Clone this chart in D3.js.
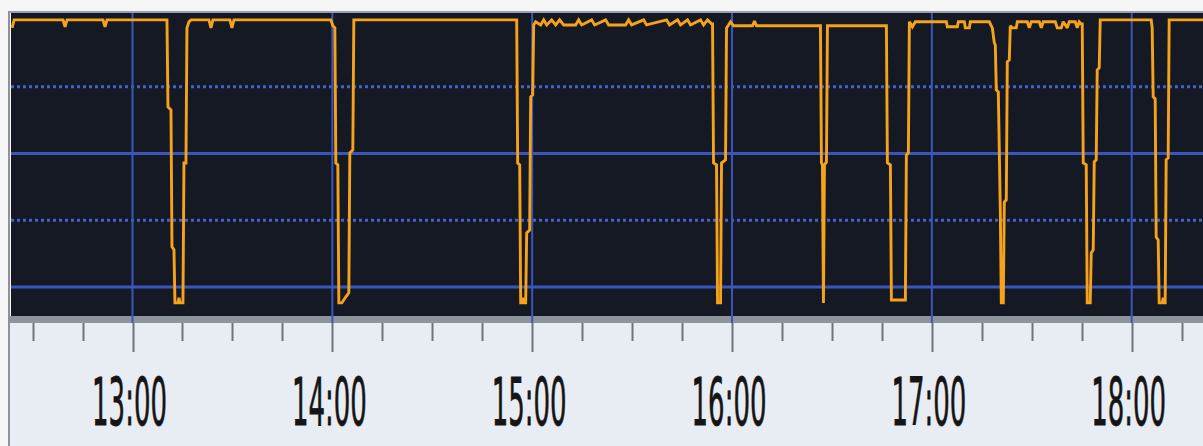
<!DOCTYPE html>
<html>
<head>
<meta charset="utf-8">
<script src="https://cdn.jsdelivr.net/npm/d3@7/dist/d3.min.js"></script>
<style>
  html, body { margin: 0; padding: 0; background: #f6f6f7; }
  svg { display: block; }
</style>
</head>
<body>
<svg id="chart" width="1203" height="446"></svg>
<script>
// ---------------- data ----------------
const times = [
  "12:23:51","12:24:27","12:39:09","12:39:45","12:40:21","12:51:09","12:51:45","12:52:21",
  "13:10:21","13:10:39","13:11:33","13:11:51","13:12:27","13:12:45","13:13:39","13:13:57","13:14:15","13:15:09",
  "13:15:27","13:16:03","13:16:21","13:16:57","13:17:33","13:22:57","13:23:33","13:24:09","13:29:15","13:29:51","13:30:27",
  "13:59:33","14:00:09","14:00:45","14:01:03","14:01:39","14:01:57","14:02:51","14:04:03","14:04:57","14:05:15","14:06:09","14:06:27",
  "14:55:21","14:55:39","14:56:15","14:56:33","14:57:09","14:57:27","14:57:45","14:58:03","14:58:21","14:59:15","14:59:33","15:00:09","15:00:27",
  "15:01:03","15:02:33","15:03:27","15:04:21","15:05:51","15:07:03","15:08:15","15:09:27","15:13:03","15:13:57","15:14:51",
  "15:17:51","15:18:45","15:22:03","15:22:57","15:28:03","15:28:57","15:29:51","15:33:27","15:34:21","15:40:21","15:41:15",
  "15:43:39","15:44:33","15:46:39","15:47:33","15:50:33","15:51:27","15:52:39","15:53:51",
  "15:54:09","15:54:27","15:55:21","15:55:39","15:56:33","15:56:51","15:58:03","15:58:21","15:58:57",
  "15:59:33","16:00:27","16:06:09","16:06:45","16:07:21","16:26:33",
  "16:26:51","16:27:09","16:27:27","16:27:45","16:28:21","16:28:39","16:46:21",
  "16:46:39","16:47:33","16:47:51","16:52:03","16:52:21","16:52:57","16:53:15",
  "16:54:09","16:55:03","17:04:21","17:04:39","17:07:39","17:07:57","17:09:45","17:10:03","17:11:15","17:11:33","17:17:15","17:18:09",
  "17:18:45","17:19:03","17:19:21","17:19:57","17:20:33","17:20:51","17:21:27","17:21:45","17:22:21","17:22:39","17:23:15","17:23:33",
  "17:24:09","17:25:21","17:25:39","17:28:39","17:29:15","17:29:51","17:32:15","17:32:51","17:33:27","17:37:03","17:37:39",
  "17:38:51","17:39:27","17:40:39","17:41:15","17:43:03","17:43:39","17:44:15","17:44:51",
  "17:45:09","17:45:27","17:46:21","17:46:39","17:47:33","17:47:51","17:48:27","17:48:45","17:49:21","17:49:39","17:50:15","17:50:33",
  "18:05:51","18:06:09","18:06:27","18:07:03","18:07:21","18:07:57","18:08:15","18:09:09","18:09:27","18:09:45","18:10:03",
  "18:10:21","18:10:57","18:11:15","18:21:45"
];
const values = [
  97.0,100.0,100.0,97.4,100.0,100.0,97.4,100.0,
  100.0,67.4,66.3,15.0,13.9,-6.0,-6.0,-4.1,-6.0,-6.0,
  46.4,46.4,97.0,99.3,100.0,100.0,97.0,100.0,100.0,97.0,100.0,
  100.0,97.8,97.0,46.4,45.7,-6.0,-6.0,-3.7,-2.2,50.2,51.3,100.0,
  100.0,46.4,45.7,-6.0,-6.0,-4.1,-6.0,-6.0,20.2,21.3,71.2,71.9,98.1,
  99.3,98.1,100.0,98.1,100.0,98.1,100.0,98.1,98.1,100.0,98.1,
  100.0,98.1,100.0,98.1,98.1,100.0,98.1,100.0,98.1,100.0,98.1,
  100.0,98.1,100.0,98.1,100.0,98.1,100.0,98.5,
  98.5,46.4,45.7,-6.0,-6.0,46.4,47.6,97.0,98.1,
  99.3,97.8,97.8,99.6,97.8,97.8,
  46.4,45.7,-6.0,45.7,46.8,97.8,97.8,
  46.4,45.7,-4.9,-4.9,49.4,50.2,99.3,
  97.4,99.3,99.3,97.4,97.4,99.3,99.3,97.0,97.0,99.3,99.3,97.0,
  91.4,90.6,73.8,73.0,28.8,-6.0,-6.0,31.8,32.6,84.3,85.0,97.8,
  97.0,97.0,99.3,99.3,97.0,99.3,99.3,97.0,99.3,99.3,97.0,
  97.0,99.3,97.0,99.3,99.3,97.0,99.3,98.5,
  98.5,46.4,45.7,-6.0,-6.0,12.7,13.9,46.8,47.6,81.3,82.0,100.0,
  100.0,97.0,71.2,70.4,18.7,17.6,-6.0,-6.0,-4.1,-6.0,-6.0,
  47.6,48.3,100.0,100.0
];
const solidGrid = [0, 50];
const dottedGrid = [25, 75];
const hourLabels = ["13:00","14:00","15:00","16:00","17:00","18:00"];
const minorStepMinutes = 15;

// ---------------- drawing ----------------
const W = 1203, H = 446;
const plot = { left: 11, top: 13, right: 1203, bottom: 316 };
const parseT = d3.timeParse("%H:%M:%S");
const parseH = d3.timeParse("%H:%M");
const fmtH = d3.timeFormat("%H:%M");

const data = times.map((t, i) => ({ t: parseT(t), v: values[i] }));
const hours = hourLabels.map(parseH);

const x = d3.scaleTime()
  .domain([hours[0], hours[hours.length - 1]])
  .range([132.5, 1131.7]);
const y = d3.scaleLinear()
  .domain([-10.9, 102.2])
  .range([plot.bottom, plot.top + 1]);

const svg = d3.select("#chart");

svg.append("rect").attr("x", 0).attr("y", 0).attr("width", W).attr("height", H).attr("fill", "#f6f6f7");

// plot area
svg.append("rect")
  .attr("x", plot.left).attr("y", plot.top)
  .attr("width", plot.right - plot.left).attr("height", plot.bottom - plot.top)
  .attr("fill", "#141923");

// axis area
svg.append("rect")
  .attr("x", plot.left - 1).attr("y", plot.bottom + 7)
  .attr("width", W - plot.left + 1).attr("height", H - plot.bottom - 7)
  .attr("fill", "#e8ecf3");
svg.append("rect")
  .attr("x", plot.left - 1).attr("y", plot.bottom)
  .attr("width", W - plot.left + 1).attr("height", 7)
  .attr("fill", "#8e949b");

// frame lines
svg.append("line")
  .attr("x1", plot.left - 2).attr("x2", W)
  .attr("y1", plot.top - 1).attr("y2", plot.top - 1)
  .attr("stroke", "#9aa0a6").attr("stroke-width", 2);
svg.append("line")
  .attr("x1", plot.left - 2).attr("x2", plot.left - 2)
  .attr("y1", plot.top - 2).attr("y2", H)
  .attr("stroke", "#8f9398").attr("stroke-width", 2);

// horizontal grid
const gGrid = svg.append("g");
gGrid.selectAll("line.hd").data(dottedGrid).join("line")
  .attr("class", "hd")
  .attr("x1", plot.left).attr("x2", plot.right)
  .attr("y1", d => y(d)).attr("y2", d => y(d))
  .attr("stroke", "#4262cc").attr("stroke-width", 3)
  .attr("stroke-dasharray", "3,3");
gGrid.selectAll("line.hs").data(solidGrid).join("line")
  .attr("class", "hs")
  .attr("x1", plot.left).attr("x2", plot.right)
  .attr("y1", d => y(d)).attr("y2", d => y(d))
  .attr("stroke", "#3a56bc").attr("stroke-width", 3);

// vertical hour grid
gGrid.selectAll("line.v").data(hours).join("line")
  .attr("class", "v")
  .attr("x1", d => x(d)).attr("x2", d => x(d))
  .attr("y1", plot.top).attr("y2", plot.bottom + 7)
  .attr("stroke", "#3a56bc").attr("stroke-width", 2);

svg.append("clipPath").attr("id", "clip")
  .append("rect")
  .attr("x", plot.left).attr("y", plot.top)
  .attr("width", plot.right - plot.left).attr("height", plot.bottom - plot.top);

const line = d3.line().x(d => x(d.t)).y(d => y(d.v));
svg.append("path")
  .datum(data)
  .attr("clip-path", "url(#clip)")
  .attr("d", line)
  .attr("fill", "none")
  .attr("stroke", "#f6a21a")
  .attr("stroke-width", 2.9)
  .attr("stroke-linejoin", "miter")
  .attr("stroke-miterlimit", 2);

// ticks on the axis
const tStart = x.invert(plot.left), tEnd = x.invert(W);
const tickTimes = d3.timeMinute.every(minorStepMinutes).range(tStart, tEnd);
svg.append("g").selectAll("line").data(tickTimes).join("line")
  .attr("x1", d => Math.round(x(d)) + 0.5).attr("x2", d => Math.round(x(d)) + 0.5)
  .attr("y1", plot.bottom + 7)
  .attr("y2", d => d.getMinutes() === 0 ? plot.bottom + 36 : plot.bottom + 25)
  .attr("stroke", "#6f747a").attr("stroke-width", 2);

// hour labels
svg.append("g").selectAll("text").data(hours).join("text")
  .attr("transform", d => `translate(${x(d) - 3},425) scale(0.65,1.64)`)
  .attr("text-anchor", "middle")
  .attr("font-family", "DejaVu Sans, sans-serif")
  .attr("font-size", 40)
  .attr("fill", "#151515")
  .attr("stroke", "#151515")
  .attr("stroke-width", 0.6)
  .attr("vector-effect", "non-scaling-stroke")
  .text(d => fmtH(d));
</script>
</body>
</html>
